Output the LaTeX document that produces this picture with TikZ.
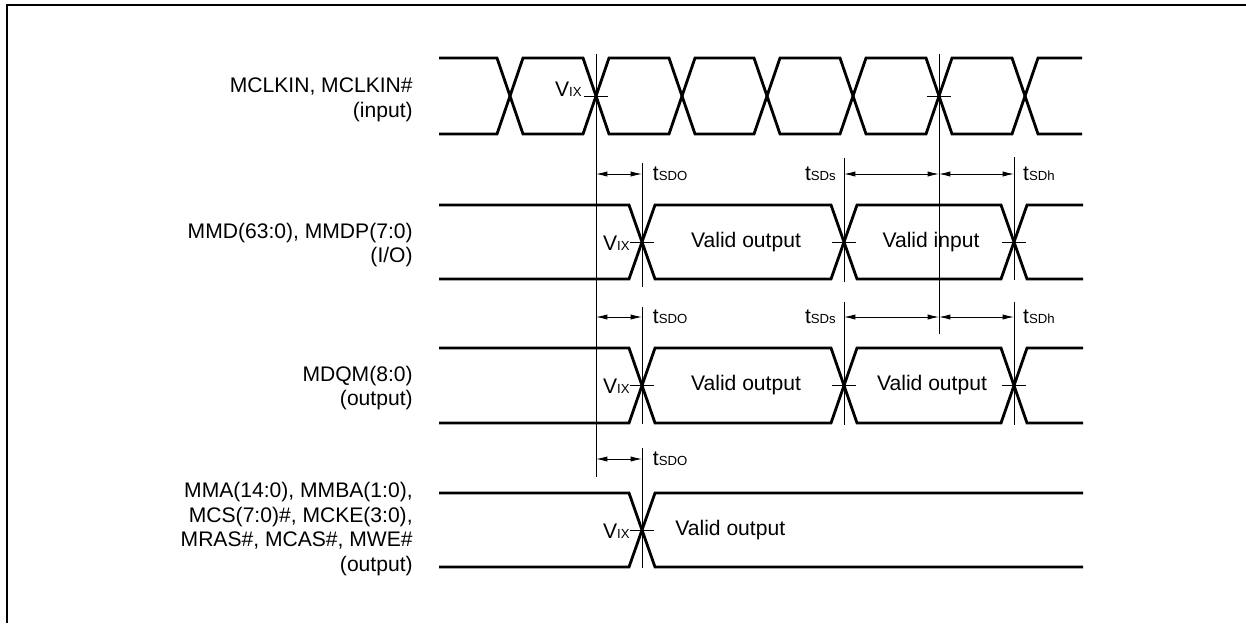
\documentclass[tikz,border=0pt]{standalone}
\usepackage{fontspec}
\setmainfont{Liberation Sans}
\usepackage{tikz}
\usetikzlibrary{arrows.meta, positioning, calc}
\newcommand{\lo}[1]{{\fontsize{7.5}{9}\selectfont #1}}
\tikzset{
  % Signal styles
  wave/.style={line width=1.6pt, line join=miter},
  guide/.style={line width=0.5pt},
  tickmark/.style={line width=0.5pt},
  % Arrow styles
  dimarrow/.style={{Latex[length=6.5pt,width=3pt]}-{Latex[length=6.5pt,width=3pt]}, line width=0.5pt},
  % Text styles
  siglabel/.style={anchor=east, align=right, font=\fontsize{12}{14}\selectfont, inner sep=0pt},
  datatext/.style={font=\fontsize{12}{14}\selectfont, inner sep=0pt},
  vixtext/.style={anchor=east, font=\fontsize{12}{14}\selectfont, inner sep=0pt},
  timetext/.style={font=\fontsize{12}{14}\selectfont, inner sep=0pt}
}

\begin{document}
\begin{tikzpicture}[x=0.02cm, y=-0.02cm]
  \useasboundingbox (0,0) rectangle (1246,623);
  \draw[line width=1.7pt] (7,623) -- (7,5) -- (1246,5);

  % Signal names
  \node[siglabel] (clk) at (413,100) {MCLKIN, MCLKIN\#\\(input)};
  \node[siglabel] (mmd) at (413,245) {MMD(63:0), MMDP(7:0)\\(I/O)};
  \node[siglabel] (dqm) at (413,388) {MDQM(8:0)\\(output)};
  \node[siglabel] (cmd) at (413,529) {MMA(14:0), MMBA(1:0),\\MCS(7:0)\#, MCKE(3:0),\\MRAS\#, MCAS\#, MWE\#\\(output)};

  % Clock
  \draw[wave] (439,58) -- (497,58) -- (510,96) -- (497,134) -- (439,134);
  \foreach \a/\b in {510/596, 596/682, 682/767, 767/853, 853/939, 939/1025}
    \draw[wave] (\a,96) -- (\a+13,58) -- (\b-13,58) -- (\b,96) -- (\b-13,134) -- (\a+13,134) -- cycle;
  \draw[wave] (1082,58) -- (1038,58) -- (1025,96) -- (1038,134) -- (1082,134);

  % Data buses
  \foreach \yt/\ym/\yb in {205/242/279, 348/385.5/423} {
    \draw[wave] (439,\yt) -- (629,\yt) -- (642,\ym) -- (629,\yb) -- (439,\yb);
    \foreach \a/\b in {642/844, 844/1014}
      \draw[wave] (\a,\ym) -- (\a+13,\yt) -- (\b-13,\yt) -- (\b,\ym) -- (\b-13,\yb) -- (\a+13,\yb) -- cycle;
    \draw[wave] (1083,\yt) -- (1027,\yt) -- (1014,\ym) -- (1027,\yb) -- (1083,\yb);
  }

  % Command bus
  \draw[wave] (439,493) -- (629,493) -- (642,530) -- (629,567) -- (439,567);
  \draw[wave] (1083,493) -- (655,493) -- (642,530) -- (655,567) -- (1083,567);

  % Reference lines
  \draw[guide] (596,54) -- (596,477);
  \draw[guide] (939,54) -- (939,334);
  \draw[guide] (642,163) -- (642,287);
  \draw[guide] (844,158) -- (844,282);
  \draw[guide] (1014,157) -- (1014,280);
  \draw[guide] (642,307) -- (642,424);
  \draw[guide] (844,302) -- (844,425);
  \draw[guide] (1014,302) -- (1014,425);
  \draw[guide] (642,448) -- (642,568);

  % Crossing ticks
  \foreach \x/\y in {596/96, 939/96, 642/242, 844/242, 1014/242, 642/385.5, 844/385.5, 1014/385.5, 642/530}
    \draw[tickmark] (\x-12,\y) -- (\x+12,\y);

  % VIX labels
  \node[vixtext] (vix1) at (582,89) {V\lo{IX}};
  \node[vixtext] (vix2) at (630,243) {V\lo{IX}};
  \node[vixtext] (vix3) at (630,386) {V\lo{IX}};
  \node[vixtext] (vix4) at (630,531) {V\lo{IX}};

  % Data labels
  \node[datatext] (out1) at (746,242) {Valid output};
  \node[datatext] (in1) at (931,242) {Valid input};
  \node[datatext] (out2) at (746,385) {Valid output};
  \node[datatext] (out3) at (932,385) {Valid output};
  \node[datatext, anchor=west] (out4) at (675,530) {Valid output};

  % Timing arrows
  \foreach \y/\r in {174/1, 317/2} {
    \coordinate (e0-\r) at (596,\y);
    \coordinate (e1-\r) at (642,\y);
    \coordinate (e2-\r) at (844,\y);
    \coordinate (e3-\r) at (939,\y);
    \coordinate (e4-\r) at (1014,\y);
    \draw[dimarrow] (e0-\r) -- (e1-\r);
    \draw[dimarrow] (e2-\r) -- (e3-\r);
    \draw[dimarrow] (e3-\r) -- (e4-\r);
    \node[timetext, right=6pt of e1-\r] (tdo-\r) {t\lo{SDO}};
    \node[timetext, left=4.5pt of e2-\r] (tds-\r) {t\lo{SDs}};
    \node[timetext, right=5pt of e4-\r] (tdh-\r) {t\lo{SDh}};
  }
  \coordinate (e0-3) at (596,459);
  \coordinate (e1-3) at (642,459);
  \draw[dimarrow] (e0-3) -- (e1-3);
  \node[timetext, right=6pt of e1-3] (tdo-3) {t\lo{SDO}};
\end{tikzpicture}
\end{document}
